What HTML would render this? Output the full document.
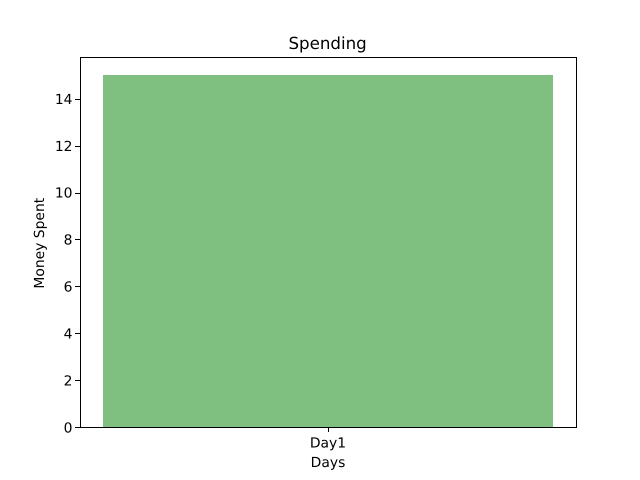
<!DOCTYPE html>
<html>
<head>
<meta charset="utf-8">
<style>
html,body{margin:0;padding:0;background:#fff;}
svg{display:block;}
text{font-family:"DejaVu Sans","Liberation Sans",sans-serif;fill:#000;text-rendering:geometricPrecision;}
</style>
</head>
<body>
<svg id="chart" width="640" height="480" viewBox="0 0 640 480" xmlns="http://www.w3.org/2000/svg"></svg>
<script>
const categories = ['Day1'];
const seriesValues = [15];
const yTickLabels = [0, 2, 4, 6, 8, 10, 12, 14];

const NS = 'http://www.w3.org/2000/svg';
const svg = document.getElementById('chart');
const plot = {left: 80, right: 576, top: 57.6, bottom: 427.2};
const maxValue = Math.max(...seriesValues) * 1.05;
const yScale = v => plot.bottom - (v / maxValue) * (plot.bottom - plot.top);
const barRatio = 0.8;
const slotCount = categories.length;
const dataSpan = (slotCount - 1) + barRatio;
const xMargin = dataSpan * 0.05;
const xRangeUnits = dataSpan + 2 * xMargin;
const xScale = i => plot.left + ((i + barRatio / 2 + xMargin) / xRangeUnits) * (plot.right - plot.left);
const bandWidth = (barRatio / xRangeUnits) * (plot.right - plot.left);
const snap = p => Math.round(p) + 0.5;

function make(tag, attrs, text) {
  const el = document.createElementNS(NS, tag);
  for (const k in attrs) el.setAttribute(k, attrs[k]);
  if (text !== undefined) el.textContent = text;
  svg.appendChild(el);
  return el;
}

const bg = make('rect', {x: 0, y: 0, width: 640, height: 480, fill: '#fff'});



seriesValues.forEach((v, i) => {
  const cx = xScale(i);
  const x0 = Math.round(cx - bandWidth / 2);
  const x1 = Math.round(cx + bandWidth / 2);
  const y0 = Math.round(yScale(v));
  const y1 = Math.round(plot.bottom);
  const bar = make('rect', {x: x0, y: y0, width: x1 - x0, height: y1 - y0, fill: '#008000', 'fill-opacity': 0.5, 'shape-rendering': 'crispEdges'});
  
  

  const tx = snap(cx);
  const tick = make('line', {x1: tx, x2: tx, y1: 427, y2: 432, stroke: '#000', 'stroke-width': 1, 'shape-rendering': 'crispEdges'});
  
  

  const label = make('text', {x: cx, y: 447.5, 'text-anchor': 'middle', 'font-size': 13.89}, categories[i]);
  
  
});

yTickLabels.forEach(v => {
  const y = yScale(v);
  const ty = snap(y);
  const tick = make('line', {x1: 75, x2: 80, y1: ty, y2: ty, stroke: '#000', 'stroke-width': 1, 'shape-rendering': 'crispEdges'});
  
  

  const label = make('text', {x: plot.left - 7.5, y: y + 5.2, 'text-anchor': 'end', 'font-size': 13.89}, String(v));
  
  
});

const frame = make('rect', {x: 80.5, y: 57.5, width: 496, height: 370, fill: 'none', stroke: '#000', 'stroke-width': 1, 'shape-rendering': 'crispEdges'});



const title = make('text', {x: 327.6, y: 49, 'text-anchor': 'middle', 'font-size': 16.67}, 'Spending');



const xTitle = make('text', {x: 328, y: 467, 'text-anchor': 'middle', 'font-size': 13.89}, 'Days');



const yTitle = make('text', {x: 0, y: 0, 'text-anchor': 'middle', 'font-size': 13.89, transform: 'translate(44 243.2) rotate(-90)'}, 'Money Spent');


</script>
</body>
</html>
